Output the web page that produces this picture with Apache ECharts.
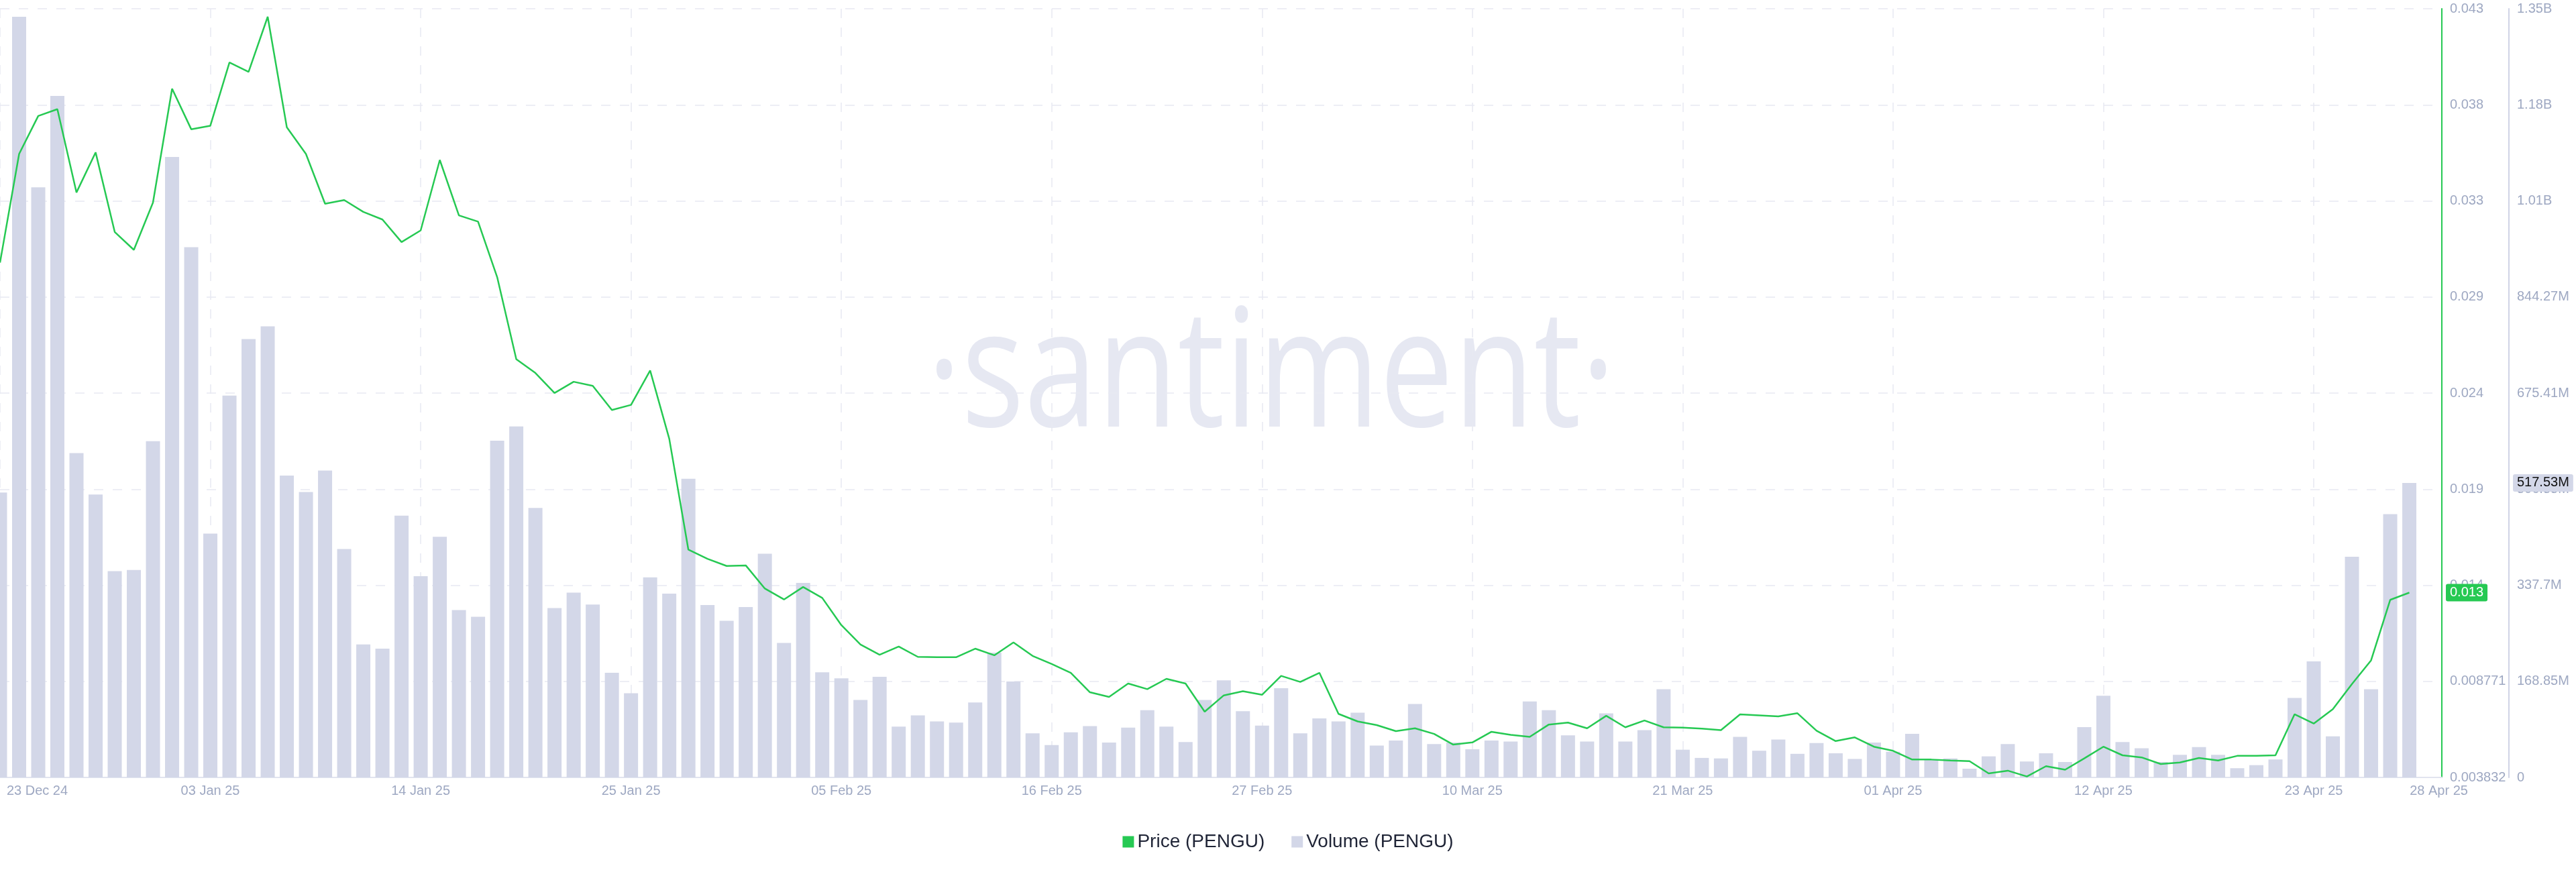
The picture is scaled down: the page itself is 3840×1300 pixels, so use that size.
<!DOCTYPE html>
<html>
<head>
<meta charset="utf-8">
<script src="https://cdn.jsdelivr.net/npm/echarts@6/dist/echarts.min.js"></script>
<style>
html,body{margin:0;padding:0;background:#ffffff;}
#c{width:3840px;height:1300px;}
</style>
</head>
<body>
<div id="c"></div>
<script>
// ---- categories (daily dates) ----
const startDate = Date.UTC(2024, 11, 23);
const dayCount = 127;
const monthNames = ['Jan','Feb','Mar','Apr','May','Jun','Jul','Aug','Sep','Oct','Nov','Dec'];
const categories = Array.from({length: dayCount}, function (_, i) {
  const d = new Date(startDate + i * 86400000);
  const dd = String(d.getUTCDate()).padStart(2, '0');
  return dd + ' ' + monthNames[d.getUTCMonth()] + ' ' + String(d.getUTCFullYear()).slice(2);
});

// ---- x tick labels ----
const xTickLabels = ['23 Dec 24','03 Jan 25','14 Jan 25','25 Jan 25','05 Feb 25','16 Feb 25','27 Feb 25','10 Mar 25','21 Mar 25','01 Apr 25','12 Apr 25','23 Apr 25','28 Apr 25'];

// ---- Volume (PENGU), millions ----
const volumeM = [
  500.6, 1336.6, 1037, 1197.7, 570, 497, 362.6, 364.4, 590.7, 1090.4,
  931.7, 428.4, 671, 770.2, 792.8, 530.3, 501.5, 539.3, 401.3, 233.6,
  226.4, 460, 353.5, 423, 294, 282.3, 591.7, 616.9, 473.5, 297.6,
  324.7, 303.9, 184, 147.9, 351.7, 322.9, 524.9, 303, 275.1, 299.4,
  393.2, 236.3, 341.8, 184.9, 174.1, 136.2, 176.8, 89.3, 109.1, 98.3,
  96.5, 131.7, 219.2, 168.7, 77.6, 56.8, 79.4, 90.2, 61.3, 87.5,
  118.1, 89.3, 62.2, 136.2, 170.5, 116.3, 91.1, 156.9, 77.6, 103.7,
  98.3, 113.6, 55.9, 64.9, 129, 58.6, 61.3, 49.6, 64.9, 63.1,
  133.5, 118.1, 74, 63.1, 112.7, 63.1, 83, 155.1, 48.7, 34.3,
  33.4, 71.3, 46.9, 66.7, 41.5, 60.4, 42.4, 32.5, 61.3, 45.1,
  76.7, 30.7, 33.4, 15.3, 37, 58.6, 28, 42.4, 27.1, 88.4,
  143.4, 62.2, 51.4, 27.1, 39.7, 53.2, 39.7, 16.2, 21.6, 31.6,
  139.8, 203.8, 72.2, 387.8, 155.1, 462.7, 517.53
];

// ---- Price (PENGU), USD ----
const price = [
  0.03029, 0.03588, 0.03783, 0.03818, 0.03390, 0.03596, 0.03187, 0.03095, 0.03338, 0.03923,
  0.03715, 0.03733, 0.04058, 0.04010, 0.04293, 0.03725, 0.03588, 0.03332, 0.03351, 0.03290,
  0.03251, 0.03135, 0.03195, 0.03557, 0.03272, 0.03240, 0.02955, 0.02533, 0.02462, 0.02359,
  0.02417, 0.02396, 0.02272, 0.02298, 0.02475, 0.02124, 0.01554, 0.01507, 0.01470, 0.01473,
  0.01354, 0.01298, 0.01362, 0.01306, 0.01166, 0.01066, 0.01014, 0.01056, 0.01003, 0.01001,
  0.01001, 0.01045, 0.01011, 0.01077, 0.01008, 0.00966, 0.00921, 0.00821, 0.00797, 0.00866,
  0.00837, 0.00890, 0.00866, 0.00721, 0.00805, 0.00826, 0.00808, 0.00905, 0.00874, 0.00921,
  0.00710, 0.00671, 0.00652, 0.00621, 0.00636, 0.00607, 0.00552, 0.00563, 0.00618, 0.00602,
  0.00592, 0.00655, 0.00665, 0.00636, 0.00700, 0.00641, 0.00676, 0.00641, 0.00639, 0.00634,
  0.00626, 0.00707, 0.00702, 0.00697, 0.00713, 0.00623, 0.00570, 0.00589, 0.00541, 0.00520,
  0.00475, 0.00475, 0.00470, 0.00467, 0.00404, 0.00418, 0.00388, 0.00441, 0.00423, 0.00481,
  0.00541, 0.00497, 0.00486, 0.00452, 0.00460, 0.00483, 0.00470, 0.00494, 0.00494, 0.00497,
  0.00708, 0.00660, 0.00734, 0.00863, 0.00985, 0.01296, 0.01333
];

// ---- y tick labels ----
const priceTickLabels = ['0.003832','0.008771','0.014','0.019','0.024','0.029','0.033','0.038','0.043'];
const volumeTickLabels = ['0','168.85M','337.7M','506.55M','675.41M','844.27M','1.01B','1.18B','1.35B'];

// ---- axis scale settings ----
const priceMin = 0.003832, priceInterval = 0.004939, priceMax = 0.043344;
const volMax = 1350.82, volInterval = 168.8525; // millions

const labelColor = '#9ea8c2';
const gridColor = '#e7e9f2';
const fontFam = '"Liberation Sans", Arial, Helvetica, sans-serif';

const xLabelIdx = xTickLabels.map(function (s) { return categories.indexOf(s); });
const lastIdx = dayCount - 1;

const chart = echarts.init(document.getElementById('c'), null, {renderer: 'canvas', width: 3840, height: 1300});

const option = {
  animation: false,
  backgroundColor: '#ffffff',
  textStyle: {fontFamily: fontFam},
  grid: {left: 0, right: 200, top: 13, bottom: 141, containLabel: false},
  legend: {
    data: ['Price (PENGU)', 'Volume (PENGU)'],
    left: 'center',
    top: 1236,
    icon: 'rect',
    itemWidth: 17,
    itemHeight: 17,
    itemGap: 40,
    textStyle: {fontSize: 28, color: '#1f2436', fontFamily: fontFam}
  },
  graphic: [{
    type: 'text',
    z: -1,
    silent: true,
    x: 1895,
    y: 566,
    scaleX: 0.8,
    style: {
      text: '\u00B7santiment\u00B7',
      font: '400 245px "Open Sans", "Noto Sans", sans-serif',
      fill: '#e6e8f2',
      align: 'center',
      verticalAlign: 'middle'
    }
  }],
  xAxis: {
    type: 'value',
    min: 0,
    max: 127.7,
    interval: 11,
    axisLine: {show: true, onZero: false, lineStyle: {color: '#e1e4ef', width: 2}},
    axisTick: {show: false},
    splitLine: {show: true, lineStyle: {color: gridColor, width: 1.5, type: [14, 14]}},
    axisLabel: {
      customValues: xLabelIdx,
      color: labelColor,
      fontSize: 20,
      fontFamily: fontFam,
      margin: 10,
      formatter: function (v) {
        const i = Math.round(v);
        const s = categories[i];
        if (i === 0) return '{f|' + s + '}';
        if (i === lastIdx) return '{l|' + s + '}';
        return s;
      },
      rich: {
        f: {padding: [0, 0, 0, 111], color: labelColor, fontSize: 20, fontFamily: fontFam},
        l: {padding: [0, 0, 0, 88], color: labelColor, fontSize: 20, fontFamily: fontFam}
      }
    }
  },
  yAxis: [
    {
      type: 'value',
      position: 'right',
      min: priceMin,
      max: priceMax,
      interval: priceInterval,
      axisLine: {show: true, onZero: false, lineStyle: {color: '#26c953', width: 2}},
      axisTick: {show: false},
      splitLine: {show: true, lineStyle: {color: gridColor, width: 1.5, type: [14, 14]}},
      axisLabel: {
        color: labelColor, fontSize: 20, fontFamily: fontFam, margin: 12,
        formatter: function (v) { return priceTickLabels[Math.round((v - priceMin) / priceInterval)] || ''; }
      },
      axisPointer: {
        show: true, status: 'show', type: 'none', triggerTooltip: false, snap: false,
        value: price[lastIdx],
        label: {
          show: true, margin: 6, padding: [3, 6, 3, 6],
          backgroundColor: '#26c953', color: '#ffffff', fontSize: 20, fontFamily: fontFam,
          formatter: function () { return price[lastIdx].toFixed(3); }
        }
      }
    },
    {
      type: 'value',
      position: 'right',
      offset: 100,
      min: 0,
      max: volMax,
      interval: volInterval,
      axisLine: {show: true, onZero: false, lineStyle: {color: '#d0d4e6', width: 2}},
      axisTick: {show: false},
      splitLine: {show: false},
      axisLabel: {
        color: labelColor, fontSize: 20, fontFamily: fontFam, margin: 12,
        formatter: function (v) { return volumeTickLabels[Math.round(v / volInterval)] || ''; }
      },
      axisPointer: {
        show: true, status: 'show', type: 'none', triggerTooltip: false, snap: false,
        value: volumeM[lastIdx],
        label: {
          show: true, margin: 6, padding: [3, 6, 3, 6],
          backgroundColor: '#d3d7e8', color: '#111111', fontSize: 20, fontFamily: fontFam,
          formatter: function () { return volumeM[lastIdx].toFixed(2) + 'M'; }
        }
      }
    }
  ],
  series: [
    {
      name: 'Volume (PENGU)',
      type: 'bar',
      yAxisIndex: 1,
      barWidth: 21,
      clip: true,
      itemStyle: {color: '#d3d7e8'},
      data: volumeM.map(function (v, i) { return [i, v]; })
    },
    {
      name: 'Price (PENGU)',
      type: 'line',
      yAxisIndex: 0,
      showSymbol: false,
      symbol: 'none',
      clip: true,
      lineStyle: {color: '#26c953', width: 2.5},
      itemStyle: {color: '#26c953'},
      z: 3,
      data: price.map(function (v, i) { return [i, v]; })
    }
  ]
};
chart.setOption(option);
</script>
</body>
</html>
